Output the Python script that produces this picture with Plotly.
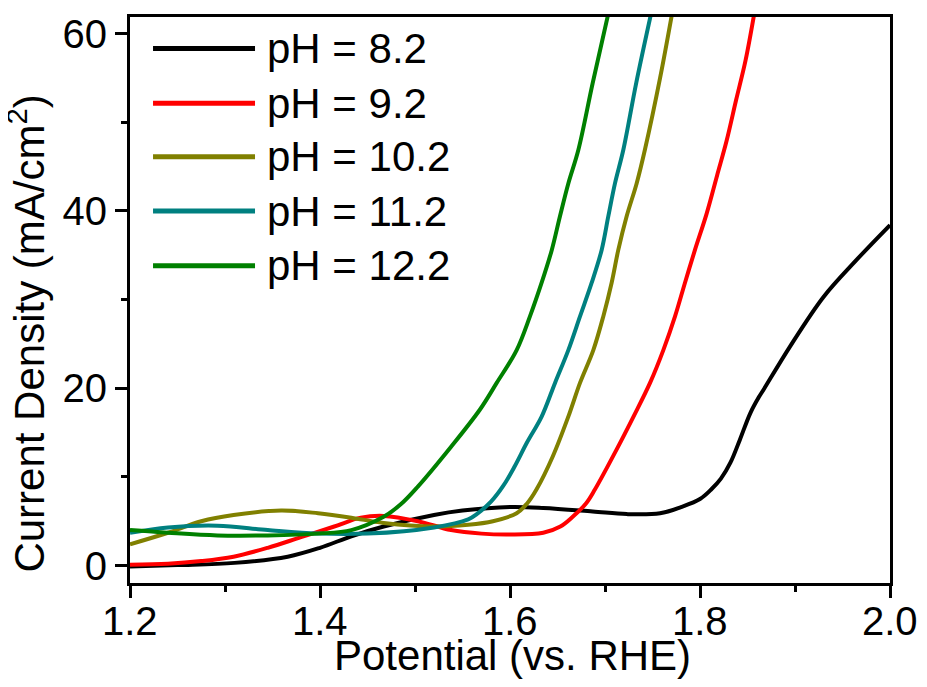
import plotly.graph_objects as go

# ---- data ----
series_names = ["pH = 8.2", "pH = 9.2", "pH = 10.2", "pH = 11.2", "pH = 12.2"]
series_colors = ["#000000", "#FF0000", "#808000", "#008080", "#008000"]

v_ph82 = [1.20, 1.25, 1.31, 1.366, 1.40, 1.433, 1.467, 1.52, 1.55, 1.60, 1.635, 1.687,
          1.723, 1.758, 1.78, 1.80, 1.812, 1.822, 1.832, 1.842, 1.853, 1.862, 1.8667,
          1.8947, 1.93, 1.965, 2.00]
j_ph82 = [-0.1, 0.05, 0.3, 1.0, 2.0, 3.3, 4.4, 5.7, 6.2, 6.6, 6.5, 6.1,
          5.8, 5.9, 6.6, 7.5, 8.6, 9.8, 11.6, 14.2, 17.2, 19.0, 19.8,
          24.7, 30.3, 34.5, 38.4]

v_ph92 = [1.20, 1.24, 1.275, 1.309, 1.345, 1.38, 1.415, 1.443, 1.467, 1.503, 1.538, 1.57,
          1.60, 1.635, 1.653, 1.666, 1.68, 1.6895, 1.7123, 1.73, 1.7474, 1.7614, 1.7737,
          1.7842, 1.7947, 1.807, 1.818, 1.828, 1.838, 1.848, 1.858]
j_ph92 = [0.1, 0.2, 0.5, 1.0, 2.0, 3.2, 4.4, 5.4, 5.6, 5.0, 4.0, 3.6,
          3.5, 3.7, 4.4, 5.5, 7.0, 8.6, 13.1, 16.8, 20.6, 24.3, 28.1,
          31.9, 35.6, 39.7, 44.0, 47.9, 52.5, 57.0, 62.8]

v_ph102 = [1.20, 1.24, 1.275, 1.309, 1.359, 1.398, 1.433, 1.467, 1.52, 1.556, 1.582, 1.607,
           1.618, 1.628, 1.645, 1.6614, 1.6737, 1.6877, 1.6982, 1.707, 1.714, 1.7228, 1.7333,
           1.742, 1.758, 1.771]
j_ph102 = [2.4, 3.7, 5.0, 5.7, 6.2, 5.9, 5.4, 4.8, 4.4, 4.6, 5.0, 5.9,
           7.0, 8.6, 12.3, 16.8, 20.6, 24.3, 28.1, 31.9, 35.6, 39.4, 43.1,
           46.9, 55.0, 62.5]

v_ph112 = [1.20, 1.24, 1.292, 1.345, 1.398, 1.45, 1.52, 1.556, 1.565, 1.58, 1.593, 1.605,
           1.618, 1.6333, 1.6474, 1.6614, 1.6737, 1.686, 1.6965, 1.7035, 1.7105, 1.7193,
           1.733, 1.749]
j_ph112 = [3.7, 4.3, 4.5, 4.0, 3.6, 3.6, 4.3, 5.2, 5.8, 7.2, 9.0, 11.2,
           13.9, 16.8, 20.6, 24.3, 28.1, 31.9, 35.6, 39.4, 43.1, 46.9,
           54.5, 62.5]

v_ph122 = [1.20, 1.24, 1.292, 1.345, 1.398, 1.433, 1.467, 1.485, 1.503, 1.538, 1.5684, 1.586,
           1.607, 1.621, 1.6333, 1.644, 1.6526, 1.6614, 1.672, 1.687, 1.704]
j_ph122 = [4.0, 3.7, 3.4, 3.4, 3.6, 4.0, 5.5, 6.9, 8.9, 13.4, 17.6, 20.6,
           24.3, 28.1, 31.9, 35.6, 39.4, 43.1, 46.9, 54.4, 62.5]

x_ticks = [1.2, 1.4, 1.6, 1.8, 2.0]
x_tick_labels = ["1.2", "1.4", "1.6", "1.8", "2.0"]
y_ticks = [0, 20, 40, 60]
y_tick_labels = ["0", "20", "40", "60"]
x_title = "Potential (vs. RHE)"
y_title = "Current Density (mA/cm<sup>2</sup>)"

series_v = [v_ph82, v_ph92, v_ph102, v_ph112, v_ph122]
series_j = [j_ph82, j_ph92, j_ph102, j_ph112, j_ph122]

FONT = "Liberation Sans, Arial, sans-serif"

fig = go.Figure()
for name, color, v, j in zip(series_names, series_colors, series_v, series_j):
    fig.add_trace(go.Scatter(x=v, y=j, mode="lines", name=name,
                             line=dict(color=color, width=4, shape="spline", smoothing=1.0),
                             showlegend=False))

# custom legend (long line samples like the reference)
leg_x0, leg_x1, leg_tx = 0.0303, 0.1645, 0.177
leg_y = [0.9442, 0.8477, 0.7529, 0.6571, 0.5605]
for name, color, yy in zip(series_names, series_colors, leg_y):
    fig.add_shape(type="line", xref="paper", yref="paper", x0=leg_x0, x1=leg_x1, y0=yy, y1=yy,
                  line=dict(color=color, width=5))
    fig.add_annotation(xref="paper", yref="paper", x=leg_tx, y=yy, text=name, showarrow=False,
                       xanchor="left", yanchor="middle", font=dict(family=FONT, size=42, color="black"))

# x tick labels placed at the axis' tick values (closer to the axis than plotly's default)
for tv, tl in zip(x_ticks, x_tick_labels):
    fig.add_annotation(xref="x", yref="paper", x=tv, y=-0.068, text=tl, showarrow=False,
                       xanchor="center", yanchor="middle", font=dict(family=FONT, size=40, color="black"))

# axis titles as annotations for exact placement
fig.add_annotation(xref="paper", yref="paper", x=0.503, y=-0.128, text=x_title, showarrow=False,
                   xanchor="center", yanchor="middle", font=dict(family=FONT, size=42, color="black"))
fig.add_annotation(xref="paper", yref="paper", x=-0.136, y=0.44, text=y_title, showarrow=False,
                   textangle=-90, xanchor="center", yanchor="middle",
                   font=dict(family=FONT, size=42, color="black"))

axis_common = dict(showgrid=False, zeroline=False, showline=True, linecolor="black", linewidth=3,
                   mirror=True, ticks="outside", ticklen=12, tickwidth=2.5, tickcolor="black",
                   automargin=False,
                   tickfont=dict(family=FONT, size=40, color="black"))

fig.update_xaxes(range=[1.2, 2.0], tickvals=x_ticks, ticktext=x_tick_labels, showticklabels=False,
                 minor=dict(ticks="outside", ticklen=6, tickwidth=2.5, tickcolor="black", dtick=0.1, tick0=1.2),
                 **axis_common)
fig.update_yaxes(range=[-1.97, 61.87], tickvals=y_ticks, ticktext=y_tick_labels,
                 minor=dict(ticks="outside", ticklen=6, tickwidth=2.5, tickcolor="black", dtick=10, tick0=0),
                 **axis_common)

# the page body has an 8px margin; size the figure so it fits the 927x687 window
fig.update_layout(width=911, height=671, autosize=False,
                  margin=dict(l=122, r=29, t=9, b=96),
                  paper_bgcolor="white", plot_bgcolor="white",
                  font=dict(family=FONT, color="black"))

fig.write_html("out.html")
